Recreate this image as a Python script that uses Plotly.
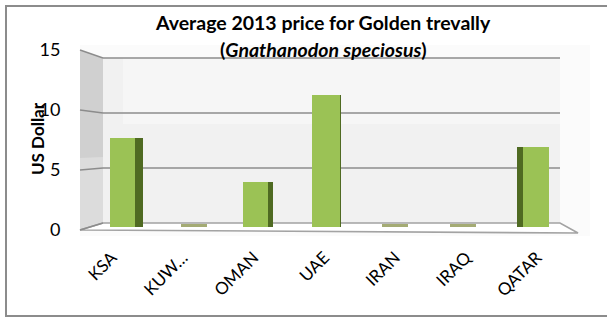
import plotly.graph_objects as go

# ---- data -------------------------------------------------------------
countries = ["KSA", "KUWAIT", "OMAN", "UAE", "IRAN", "IRAQ", "QATAR"]
tick_labels = ["KSA", "KUW…", "OMAN", "UAE", "IRAN", "IRAQ", "QATAR"]
price_usd = [7.7, 0.25, 3.9, 11.5, 0.25, 0.25, 7.0]
y_ticks = [0, 5, 10, 15]

# ---- page geometry (pixels) ------------------------------------------
W, H = 607, 320
PL, PR, PT, PB = 80, 578, 40, 232        # plot area
STEP = 67.75                             # pixels between bar centres
X_FIRST = 126.5                          # pixel of the first bar centre
LABEL_STEP = 70.8                        # category spacing on the front edge
LABEL_FIRST = 112.0                      # first category on the front edge
# (pixel of value 0, pixels per unit) at three depths of the 3-D box
FRONT = (230, 12.0)   # front edge of the side wall, carries the tick labels
BARS = (227, 11.5)    # bar faces
BACK = (223, 11.0)    # back wall with the gridlines
WALL_BACK_X = 103     # where the side wall meets the back wall
WALL_RIGHT_X = 560    # right end of the back wall
FLOOR_FRONT_RIGHT = (578, 233)

FONT = "Lato"
GRID = "#8c8c8c"
FACE = "#9bc255"
SIDE = "#4f6a22"
FLAT = "#a4ab74"

# per-bar face / side-face extents, pixels relative to the bar centre
face_off = [-16.5, -13, -19, -17.75, -15.5, -15.25, -10]
face_w = [25, 26, 25, 28, 26, 26, 26]
side_off = [8.5, 0, 6, 10.25, 0, 0, -16]
side_w = [8, 0, 5, 0.8, 0, 0, 6]


def yrange(depth):
    base, k = depth
    return [(base - PB) / k, (base - PT) / k]


def to_paper(x, y):
    return (x - PL) / (PR - PL), (PB - y) / (PB - PT)


def depth_px(depth, v):
    base, k = depth
    return base - k * v


idx = list(range(len(countries)))
x_range = [(PL - X_FIRST) / STEP, (PR - X_FIRST) / STEP]
x_label_range = [(PL - LABEL_FIRST) / LABEL_STEP, (PR - LABEL_FIRST) / LABEL_STEP]

fig = go.Figure()

# dark side faces of the columns
fig.add_trace(go.Bar(
    x=idx, y=price_usd,
    offset=[o / STEP for o in side_off], width=[w / STEP for w in side_w],
    marker=dict(color=SIDE, line=dict(width=0)),
    hoverinfo="skip", showlegend=False,
))
# front faces of the columns
fig.add_trace(go.Bar(
    x=idx, y=price_usd, customdata=countries,
    offset=[o / STEP for o in face_off], width=[w / STEP for w in face_w],
    marker=dict(color=[FACE if v > 1 else FLAT for v in price_usd],
                line=dict(width=0)),
    hovertemplate="%{customdata}: %{y} USD<extra></extra>",
    showlegend=False,
))
# carrier for the category and value axes drawn on the front edges
fig.add_trace(go.Scatter(
    x=idx[:len(y_ticks)], y=y_ticks, xaxis="x2", yaxis="y3", mode="markers",
    marker=dict(opacity=0), hoverinfo="skip", showlegend=False,
))

shapes = []


def poly(points, fill, line_color=None, line_width=0, layer="below"):
    path = ""
    for i, (x, y) in enumerate(points):
        px, py = to_paper(x, y)
        path += ("M" if i == 0 else "L") + f"{px},{py} "
    path += "Z"
    shapes.append(dict(type="path", xref="paper", yref="paper", path=path,
                       fillcolor=fill, layer=layer,
                       line=dict(color=line_color or fill, width=line_width)))


top = y_ticks[-1]
# faint chart backdrop
poly([(PL, 45), (590, 45), (590, 236), (PL, 236)], "#fbfbfb")
# back wall
poly([(WALL_BACK_X, depth_px(BACK, top)), (WALL_RIGHT_X, depth_px(BACK, top)),
      (WALL_RIGHT_X, depth_px(BACK, 0)), (WALL_BACK_X, depth_px(BACK, 0))],
     "#f1f1f1")
# lighter band on the upper back wall
poly([(WALL_BACK_X + 20, depth_px(BACK, top)), (WALL_RIGHT_X, depth_px(BACK, top)),
      (WALL_RIGHT_X, depth_px(BACK, 9)), (WALL_BACK_X + 20, depth_px(BACK, 9))],
     "#f6f6f6")
# side wall
poly([(PL, depth_px(FRONT, top)), (WALL_BACK_X, depth_px(BACK, top)),
      (WALL_BACK_X, depth_px(BACK, 0)), (PL, depth_px(FRONT, 0))],
     "#d0d0d0")
poly([(PL, depth_px(FRONT, 6)), (WALL_BACK_X, depth_px(BACK, 6)),
      (WALL_BACK_X, depth_px(BACK, 0)), (PL, depth_px(FRONT, 0))],
     "#dcdcdc")
# floor
poly([(WALL_BACK_X, depth_px(BACK, 0)), (WALL_RIGHT_X, depth_px(BACK, 0)),
      FLOOR_FRONT_RIGHT, (PL, depth_px(FRONT, 0))],
     "#ffffff", line_color="#a3a3a3", line_width=1.6)

# gridlines: slanted across the side wall, flat along the back wall
for v in y_ticks:
    x0, y0 = to_paper(PL, depth_px(FRONT, v))
    x1, y1 = to_paper(WALL_BACK_X, depth_px(BACK, v))
    shapes.append(dict(type="line", xref="paper", yref="paper",
                       x0=x0, y0=y0, x1=x1, y1=y1, layer="below",
                       line=dict(color=GRID, width=1.5)))
    if v > 0:
        shapes.append(dict(type="line", xref="x", yref="y2",
                           x0=(WALL_BACK_X - X_FIRST) / STEP, y0=v,
                           x1=(WALL_RIGHT_X - X_FIRST) / STEP, y1=v,
                           layer="below", line=dict(color=GRID, width=1.5)))

# outer chart frame
bx0, by0 = to_paper(6, 6)
bx1, by1 = to_paper(W + 6, 316)
shapes.append(dict(type="rect", xref="paper", yref="paper",
                   x0=bx0, y0=by1, x1=bx1, y1=by0, layer="above",
                   line=dict(color="#8c8c8c", width=2)))

annotations = []


def label(text, x, y, size, angle=0):
    px, py = to_paper(x, y)
    annotations.append(dict(text=text, x=px, y=py, xref="paper", yref="paper",
                            showarrow=False, textangle=angle,
                            xanchor="center", yanchor="middle",
                            font=dict(family=FONT, size=size, color="#000000")))


label("<b>Average 2013 price for Golden trevally</b>", 323, 23, 19.5)
label("<b>(<i>Gnathanodon speciosus</i>)</b>", 323, 49, 19.5)
label("<b>US Dollar</b>", 37, 139, 17, angle=-90)

fig.update_layout(
    width=W, height=H,
    margin=dict(l=PL, r=W - PR, t=PT, b=H - PB, pad=0),
    paper_bgcolor="#ffffff", plot_bgcolor="rgba(0,0,0,0)",
    bargap=0, barmode="overlay",
    shapes=shapes, annotations=annotations,
    font=dict(family=FONT, color="#000000"),
    xaxis=dict(range=x_range, visible=False, fixedrange=True),
    xaxis2=dict(range=x_label_range, overlaying="x", anchor="y3",
                side="bottom", tickvals=idx, ticktext=tick_labels,
                tickangle=-45, ticks="outside", ticklen=8,
                tickcolor="rgba(0,0,0,0)", showgrid=False, zeroline=False,
                showline=False, tickfont=dict(family=FONT, size=17)),
    yaxis=dict(range=yrange(BARS), visible=False, fixedrange=True),
    yaxis2=dict(range=yrange(BACK), overlaying="y", visible=False),
    yaxis3=dict(range=yrange(FRONT), overlaying="y", side="left",
                anchor="x2",
                tickvals=y_ticks, ticks="outside", ticklen=15,
                tickcolor="rgba(0,0,0,0)", showgrid=False, zeroline=False,
                showline=False, tickfont=dict(family=FONT, size=18)),
)

fig.write_html("out.html")
